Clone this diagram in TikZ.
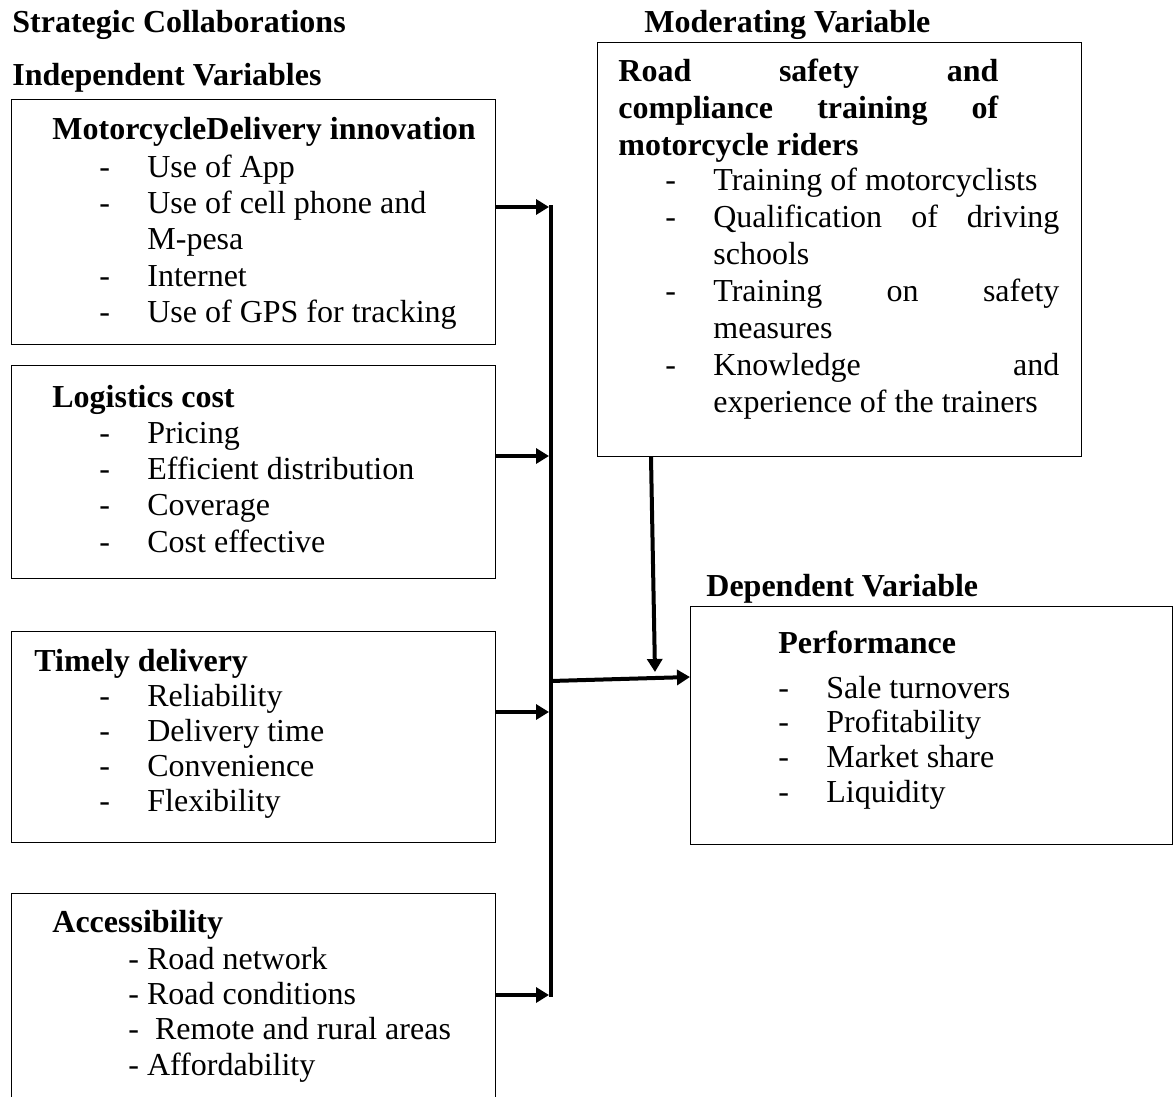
\documentclass[tikz,border=0pt]{standalone}
\usepackage{fontspec}
\setmainfont{Liberation Serif}
\usepackage{tikz}
\usetikzlibrary{
  arrows.meta,
  positioning
}
\tikzset{
  box/.style={draw, line width=0.6pt, anchor=north west, inner sep=0pt},
  lbl/.style={anchor=base west, inner sep=0pt, font=\fontsize{16}{18.3}\selectfont\bfseries},
  lst/.style={anchor=base west, inner sep=0pt, font=\fontsize{16}{18.2}\selectfont},
  conn/.style={line width=2pt, -{Triangle[length=6.5pt,width=7.5pt]}},
  bus/.style={line width=2pt}
}
\newcommand{\dashitem}[1]{\makebox[24pt][l]{-}#1}
\newcommand{\lines}[1]{\begin{tabular}[t]{@{}l@{}}#1\end{tabular}}

\begin{document}
\begin{tikzpicture}[x=0.5pt, y=-0.5pt]
            \useasboundingbox (0,0) rectangle (1173,1097);
            \clip (0,0) rectangle (1173,1097);

            % group titles
            \node[lbl] (strat) at (12,33) {Strategic Collaborations};
            \node[lbl] (indep) at (12,86) {Independent Variables};
            \node[lbl] (modlab) at (644,33) {Moderating Variable};
            \node[lbl] (deplab) at (706,596) {Dependent Variable};

            % independent variables
            \node[box, minimum width=242pt, minimum height=122.5pt] (mdi) at (11,99) {};
            \node[lbl] (mdi-hd) at (52,140) {MotorcycleDelivery innovation};
            \node[lst] (mdi-lst) at (99,177) {\lines{\dashitem{Use of App}\\ \dashitem{Use of cell phone and}\\ \hspace*{24pt}M-pesa\\ \dashitem{Internet}\\ \dashitem{Use of GPS for tracking}}};

            \node[box, minimum width=242pt, minimum height=106.5pt] (logc) at (11,365) {};
            \node[lbl] (logc-hd) at (52,407) {Logistics cost};
            \node[lst] (logc-lst) at (99,443) {\lines{\dashitem{Pricing}\\ \dashitem{Efficient distribution}\\ \dashitem{Coverage}\\ \dashitem{Cost effective}}};

            \node[box, minimum width=242pt, minimum height=105.5pt] (timely) at (11,631) {};
            \node[lbl] (timely-hd) at (34,671) {Timely delivery};
            \node[lst, font=\fontsize{16}{17.5}\selectfont] (timely-lst) at (99,706) {\lines{\dashitem{Reliability}\\ \dashitem{Delivery time}\\ \dashitem{Convenience}\\ \dashitem{Flexibility}}};

            \node[box, minimum width=242pt, minimum height=112pt] (access) at (11,893) {};
            \node[lbl] (access-hd) at (52,932) {Accessibility};
            \node[lst, font=\fontsize{16}{17.7}\selectfont] (access-lst) at (128,969) {\lines{- Road network\\ - Road conditions\\ -~ Remote and rural areas\\ - Affordability}};

            % moderating variable
            \node[box, minimum width=242pt, minimum height=207pt] (moder) at (597,42) {};
            \node[lst, font=\fontsize{16}{18.3}\selectfont\bfseries] (moder-hd) at (618,82) {\lines{\makebox[190pt][s]{Road safety and}\\ \makebox[190pt][s]{compliance training of}\\ motorcycle riders}};
            \node[lst, font=\fontsize{16}{18.5}\selectfont] (moder-lst) at (665,191) {\lines{\dashitem{Training of motorcyclists}\\ \dashitem{\makebox[173pt][s]{Qualification of driving}}\\ \hspace*{24pt}schools\\ \dashitem{\makebox[173pt][s]{Training on safety}}\\ \hspace*{24pt}measures\\ \dashitem{\makebox[173pt][s]{Knowledge and}}\\ \hspace*{24pt}experience of the trainers}};

            % dependent variable
            \node[box, minimum width=241pt, minimum height=119pt] (depend) at (690,606) {};
            \node[lbl] (depend-hd) at (778,653) {Performance};
            \node[lst, font=\fontsize{16}{17.4}\selectfont] (depend-lst) at (778,698) {\lines{\dashitem{Sale turnovers}\\ \dashitem{Profitability}\\ \dashitem{Market share}\\ \dashitem{Liquidity}}};

            % connectors
            \coordinate (btop) at (551,205);
            \coordinate (bbot) at (551,997);
            \coordinate (b1) at (551,207);
            \coordinate (b2) at (551,456);
            \coordinate (b3) at (551,712);
            \coordinate (b4) at (551,995);
            \coordinate (bj) at (551,681);
            \coordinate (mtip) at (655,672);
            \draw[bus] (btop) -- (bbot);
            \draw[conn] (mdi.east |- b1) -- ([xshift=-1pt]b1);
            \draw[conn] (logc.east |- b2) -- ([xshift=-1pt]b2);
            \draw[conn] (timely.east |- b3) -- ([xshift=-1pt]b3);
            \draw[conn] (access.east |- b4) -- ([xshift=-1pt]b4);
            \draw[conn] (bj) -- (depend.west |- 0,677);
            \draw[conn] (moder.south -| 651,0) -- (mtip);
        \end{tikzpicture}
\end{document}
